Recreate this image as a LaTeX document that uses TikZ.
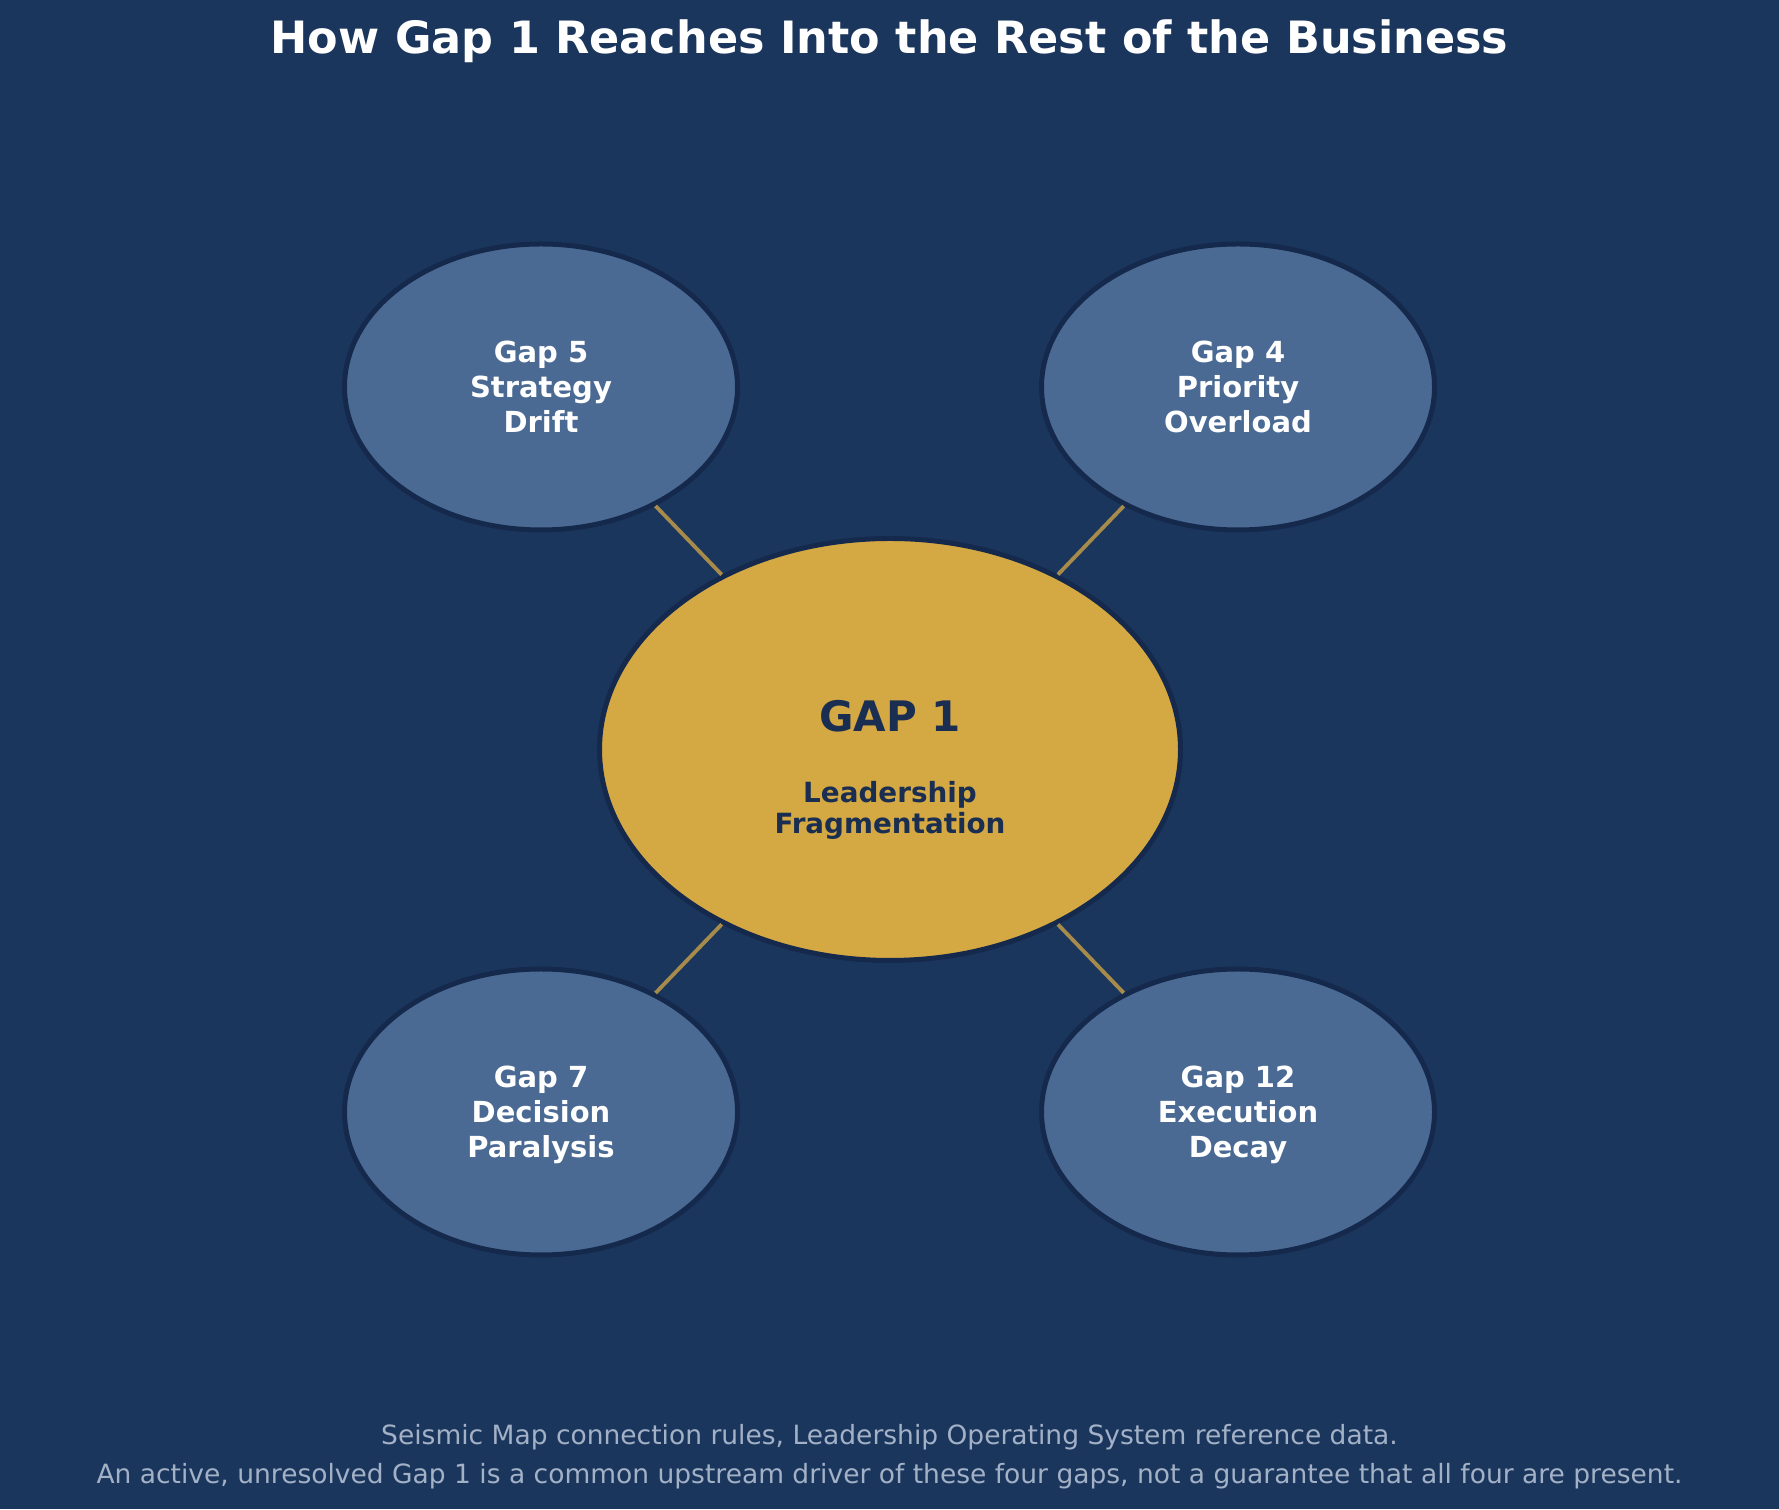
\documentclass[tikz,border=0pt]{standalone}
\usepackage{fontspec}
\setmainfont{DejaVu Sans}
\usetikzlibrary{shapes.geometric}
\definecolor{navy}{HTML}{1B365D}
\definecolor{rim}{HTML}{15294D}
\definecolor{gold}{HTML}{D4A843}
\definecolor{steel}{HTML}{4A6A94}
\definecolor{ink}{HTML}{1A2E52}
\definecolor{note}{HTML}{A3B1C7}
\newcommand{\topline}{\rule{0pt}{31pt}}

\begin{document}
\begin{tikzpicture}[x=1pt,y=1pt,
    gap/.style={ellipse, draw=rim, line width=5pt, fill=steel, minimum width=393pt, minimum height=286pt,
      inner sep=0pt, text=white, align=center, font=\bfseries\fontsize{29}{35}\selectfont},
    core/.style={ellipse, draw=rim, line width=5pt, fill=gold, minimum width=581pt, minimum height=422pt, inner sep=0pt},
    link/.style={line width=3.8pt, draw=gold!75!navy}]
      \fill[navy] (0,0) rectangle (1779,1509);
      \useasboundingbox (0,0) rectangle (1779,1509);

      \node[anchor=base, text=white, font=\bfseries\fontsize{44.5}{54}\selectfont] (title) at (889.5,1455)
        {How Gap 1 Reaches Into the Rest of the Business};

      \node[core] (g1) at (890,759.5) {};
      \node[gap] (g5) at (541,1122) {\topline Gap 5\\Strategy\\Drift\strut};
      \node[gap] (g4) at (1238,1122) {\topline Gap 4\\Priority\\Overload\strut};
      \node[gap] (g7) at (541,397) {\topline Gap 7\\Decision\\Paralysis\strut};
      \node[gap] (g12) at (1238,397) {\topline Gap 12\\Execution\\Decay\strut};

      \draw[link] (g1) -- (g5);
      \draw[link] (g1) -- (g4);
      \draw[link] (g1) -- (g7);
      \draw[link] (g1) -- (g12);

      \node[anchor=base, text=ink, font=\bfseries\fontsize{42}{50}\selectfont] (head) at (890,777) {GAP 1};
      \node[inner sep=0pt, align=center, text=ink, font=\bfseries\fontsize{27.8}{31}\selectfont] (sub) at (890,698.8)
        {Leadership\\Fragmentation};

      \node[inner sep=0pt, align=center, text=note, font=\fontsize{26.5}{39}\selectfont] (source) at (889.5,52.3)
        {Seismic Map connection rules, Leadership Operating System reference data.\\
         An active, unresolved Gap 1 is a common upstream driver of these four gaps, not a guarantee that all four are present.};
    \end{tikzpicture}
\end{document}
